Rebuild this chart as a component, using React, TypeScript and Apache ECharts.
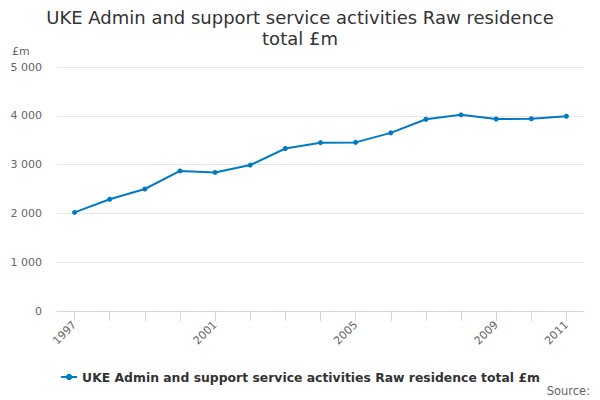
import { useEffect, useRef } from 'react'
import * as echarts from 'echarts'

const anos = ['1997', '1998', '1999', '2000', '2001', '2002', '2003', '2004', '2005', '2006', '2007', '2008', '2009', '2010', '2011']
const valores = [2020, 2290, 2500, 2870, 2840, 2990, 3330, 3450, 3455, 3650, 3930, 4020, 3935, 3940, 3990]
const nomeSerie = 'UKE Admin and support service activities Raw residence total £m'
const titulo = 'UKE Admin and support service activities Raw residence\ntotal £m'

const fonte = 'DejaVu Sans, sans-serif'

export default function App() {
  const containerRef = useRef<HTMLDivElement>(null)

  useEffect(() => {
    document.body.style.margin = '0'
    if (!containerRef.current) return
    const instancia = echarts.init(containerRef.current, undefined, { renderer: 'svg' })

    instancia.setOption({
      animation: false,
      backgroundColor: '#fff',
      textStyle: { fontFamily: fonte },
      title: {
        text: titulo,
        left: 'center',
        top: 2,
        textStyle: { fontSize: 18, fontWeight: 'normal', color: '#333', lineHeight: 21, fontFamily: fonte },
      },
      grid: { left: 57, right: 16, top: 67, bottom: 89 },
      xAxis: {
        type: 'category',
        data: anos,
        boundaryGap: true,
        axisLine: { lineStyle: { color: '#ccd6eb' } },
        axisTick: { show: true, alignWithLabel: true, interval: 0, length: 10, lineStyle: { color: '#ccd6eb' } },
        axisLabel: {
          rotate: 45,
          color: '#666',
          fontSize: 11,
          margin: 12,
          interval: (i: number) => i % 4 === 0 || i === anos.length - 1,
        },
      },
      yAxis: {
        type: 'value',
        min: 0,
        max: 5000,
        interval: 1000,
        axisLine: { show: false },
        axisTick: { show: false },
        splitLine: { lineStyle: { color: '#e6e6e6' } },
        axisLabel: {
          color: '#666',
          fontSize: 11,
          margin: 15,
          formatter: (v: number) => String(v).replace(/\B(?=(\d{3})+(?!\d))/g, ' '),
        },
      },
      legend: {
        top: 366,
        left: 'center',
        itemWidth: 16,
        itemHeight: 8,
        itemGap: 6,
        textStyle: { fontSize: 12.4, fontWeight: 'bold', color: '#333' },
        data: [nomeSerie],
      },
      graphic: [
        { type: 'text', left: 12, top: 46, style: { text: '£m', fontSize: 11, fill: '#666', fontFamily: fonte } },
        { type: 'text', right: 10, top: 385, style: { text: 'Source:', fontSize: 11.5, fill: '#666', fontFamily: fonte } },
      ],
      series: [
        {
          name: nomeSerie,
          type: 'line',
          data: valores,
          symbol: 'circle',
          symbolSize: 5,
          color: '#007ac3',
          lineStyle: { width: 2 },
        },
      ],
    })

    return () => instancia.dispose()
  }, [])

  return <div ref={containerRef} style={{ width: 600, height: 400 }} />
}
